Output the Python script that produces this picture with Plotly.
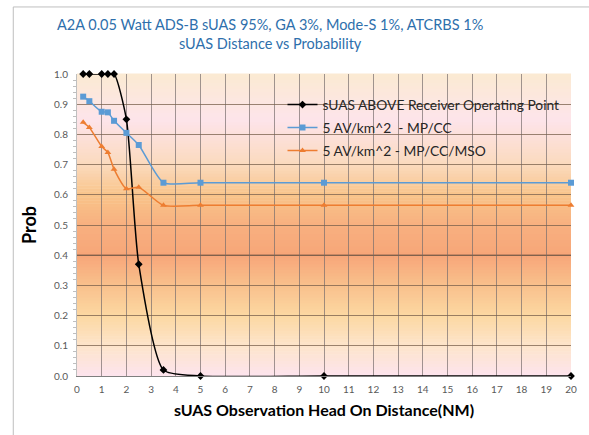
import plotly.graph_objects as go

# data
dist = [0.25, 0.5, 1, 1.25, 1.5, 2, 2.5, 3.5, 5, 10, 20]
above_op = [1.0, 1.0, 1.0, 1.0, 1.0, 0.85, 0.37, 0.02, 0.0, 0.0, 0.0]
mp_cc = [0.925, 0.91, 0.875, 0.873, 0.845, 0.805, 0.765, 0.64, 0.64, 0.64, 0.64]
mp_cc_mso = [0.84, 0.823, 0.76, 0.74, 0.685, 0.62, 0.625, 0.565, 0.565, 0.565, 0.565]

names = ["sUAS ABOVE Receiver Operating Point",
         "5 AV/km^2  - MP/CC",
         "5 AV/km^2 - MP/CC/MSO"]

title_text = "A2A 0.05 Watt ADS-B sUAS 95%, GA 3%, Mode-S 1%, ATCRBS 1%<br>sUAS Distance vs Probability"

# background gradient stops (y within plot area, colour)
stops = [(0.0, (253, 228, 238)), (0.1, (253, 228, 202)), (0.2, (252, 216, 162)),
         (0.3, (249, 192, 140)), (0.4, (247, 166, 121)), (0.5, (248, 176, 127)),
         (0.6, (249, 196, 138)), (0.7, (251, 218, 190)), (0.85, (253, 228, 234)),
         (1.0, (251, 234, 210))]


def lerp(y):
    for (y0, c0), (y1, c1) in zip(stops[:-1], stops[1:]):
        if y0 <= y <= y1:
            t = (y - y0) / (y1 - y0)
            return "rgb(%d,%d,%d)" % tuple(round(a + (b - a) * t) for a, b in zip(c0, c1))
    return "rgb(%d,%d,%d)" % stops[-1][1]


shapes = []
n = 100
for i in range(n):
    y0 = i / n
    y1 = (i + 1) / n
    shapes.append(dict(type="rect", xref="x domain", yref="y domain", x0=0, x1=1,
                       y0=y0, y1=y1 + 0.002, fillcolor=lerp((y0 + y1) / 2),
                       line=dict(width=0), layer="below"))

# chart border
shapes.append(dict(type="rect", xref="paper", yref="paper", x0=-0.129, x1=1.2, y0=-0.3, y1=1.222,
                   line=dict(color="#bfbfbf", width=1), layer="below"))
# darker line at 0.4
shapes.append(dict(type="line", xref="x domain", yref="y", x0=0, x1=1, y0=0.4, y1=0.4,
                   line=dict(color="#9a6a50", width=1.5), layer="below"))

fig = go.Figure()
fig.add_trace(go.Scatter(x=dist, y=above_op, name=names[0], mode="lines+markers", legendgroup="a",
                         line=dict(color="black", width=1.5, shape="spline", smoothing=0.6),
                         marker=dict(symbol="diamond", size=6, color="black"), cliponaxis=False))
fig.add_trace(go.Scatter(x=dist, y=mp_cc, name=names[1], mode="lines+markers", legendgroup="b",
                         line=dict(color="#5b9bd5", width=1.5, shape="spline", smoothing=0.6),
                         marker=dict(symbol="square", size=6, color="#5b9bd5"), cliponaxis=False))
fig.add_trace(go.Scatter(x=dist, y=mp_cc_mso, name=names[2], mode="lines+markers", legendgroup="c",
                         line=dict(color="#ed7d31", width=1.5, shape="spline", smoothing=0.6),
                         marker=dict(symbol="triangle-up", size=6, color="#ed7d31"), cliponaxis=False))

fig.update_layout(
    width=589, height=435,
    margin=dict(l=77, r=16, t=74, b=59),
    paper_bgcolor="white", plot_bgcolor="rgba(0,0,0,0)",
    font=dict(family="Lato", color="#404040"),
    legend=dict(x=0.416, y=0.95, xanchor="left", yanchor="top", bgcolor="rgba(0,0,0,0)",
                font=dict(family="Lato", size=13.8, color="#262626"), tracegroupgap=2,
                itemwidth=30),
    showlegend=True,
    shapes=shapes,
    annotations=[
        dict(text=title_text, xref="paper", yref="paper", x=(271 - 77) / 496, y=1 + (74 - 34) / 302,
             xanchor="center", yanchor="middle", showarrow=False,
             font=dict(family="Lato", size=14.5, color="#2e6fac")),
    ],
)

fig.update_xaxes(range=[0, 20], dtick=1, tick0=0, showgrid=True, gridcolor="rgba(120,110,110,0.7)",
                 gridwidth=1, zeroline=False, showline=True, linecolor="#7f7f7f", linewidth=1,
                 ticks="", ticklabelstandoff=4, tickfont=dict(size=10, color="#595959"),
                 title=dict(text="<b>sUAS Observation Head On Distance(NM)</b>", standoff=10,
                            font=dict(family="Lato", size=16, color="black")))
fig.update_yaxes(range=[0, 1], dtick=0.1, tickformat=".1f", showgrid=True,
                 gridcolor="rgba(120,95,75,0.75)", gridwidth=1, zeroline=False,
                 showline=True, linecolor="#bfbfbf", linewidth=1, ticks="",
                 minor=dict(dtick=0.02, ticks="outside", ticklen=3, tickcolor="#bfbfbf", showgrid=False),
                 ticklabelstandoff=6, tickfont=dict(size=10, color="#595959"),
                 title=dict(text="<b>Prob</b>", standoff=12,
                            font=dict(family="Lato", size=18, color="black")))

fig.write_html("out.html", config={"displayModeBar": False},
               post_script="document.body.style.margin='0';")
